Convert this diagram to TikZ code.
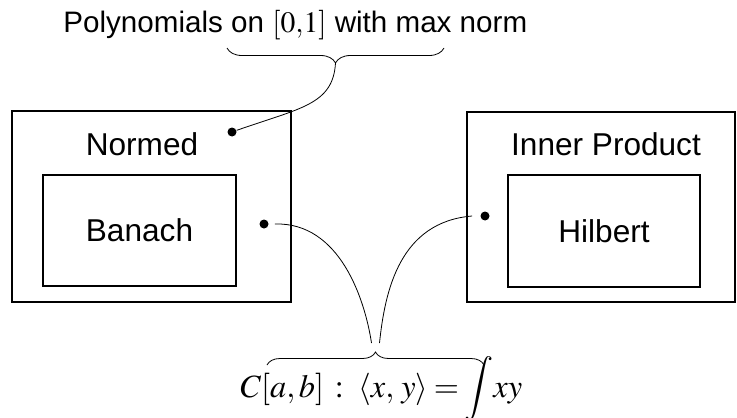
\documentclass[tikz,border=0pt]{standalone}
\usepackage{mathptmx}
\usepackage[no-math]{fontspec}
\setmainfont{Liberation Sans}
\usetikzlibrary{decorations.pathreplacing}

\begin{document}
\begin{tikzpicture}[x=0.5pt,y=-0.5pt,
    box/.style={draw,line width=0.6pt,inner sep=0pt},
    lbl/.style={font=\fontsize{15.8}{18}\selectfont},
    spot/.style={circle,fill,inner sep=0pt,minimum size=4.5pt},
    curly/.style={decorate,decoration={brace,amplitude=#1}}]
  \useasboundingbox (0,0) rectangle (737,417);
  % normed spaces
  \node[box,minimum width=139.5pt,minimum height=95.5pt] (normed) at (151.5,206.5) {};
  \node[lbl,anchor=base] (normedlbl) at (142,155) {Normed};
  \node[box,lbl,minimum width=96.5pt,minimum height=55.5pt] (banach) at (139.5,230.5) {Banach};
  % inner product spaces
  \node[box,minimum width=134pt,minimum height=95pt] (inner) at (601,207) {};
  \node[lbl,anchor=base] (innerlbl) at (606,155) {Inner Product};
  \node[box,lbl,minimum width=96pt,minimum height=56pt] (hilbert) at (604,231) {Hilbert};
  % examples
  \node[spot] (pdot) at (232,132) {};
  \node[spot] (cdot) at (264,224) {};
  \node[spot] (hdot) at (485,216) {};
  \node[anchor=base west,inner sep=0pt,font=\fontsize{14.8}{17}\selectfont] (poly) at (63,33) {Polynomials on $[0{,}1]$ with max norm};
  \node[anchor=base west,inner sep=0pt,font=\fontsize{16.2}{19}\selectfont] (cab) at (240,397) {$C[a,b]\,:\;\langle x,\,y\rangle\mskip-1mu=\mskip-1mu\displaystyle\int\! xy$};
  \draw[curly=7.5pt,decoration={mirror}] (227,48) -- (444,48) coordinate[midway,yshift=-7.5pt] (ptip);
  \draw[curly=6.5pt] (267,365) -- (484,365) coordinate[midway,yshift=6.5pt] (ctip);
  \draw (ptip) .. controls (333,105) and (300,108) .. (pdot);
  \draw ([xshift=3pt]cdot.east) .. controls (340,222) and (365,300) .. ([shift={(-4,-9)}]ctip);
  \draw ([shift={(4,-9)}]ctip) .. controls (385,290) and (400,222) .. ([xshift=-4pt]hdot.west);
\end{tikzpicture}
\end{document}
